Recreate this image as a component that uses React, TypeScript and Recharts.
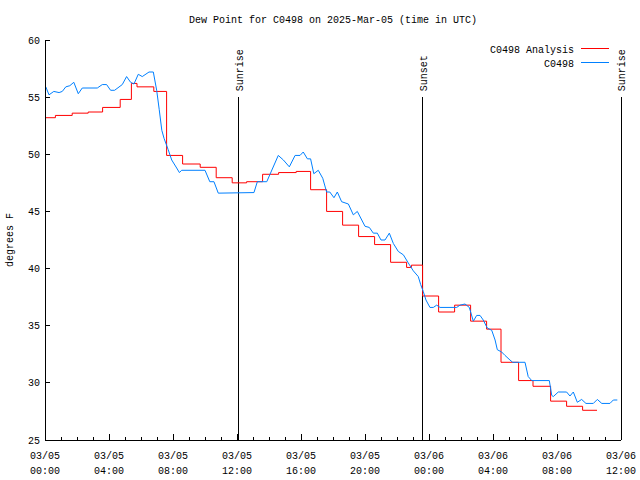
import { LineChart, Line, XAxis, YAxis, ReferenceLine } from 'recharts'

const FONT = '"Liberation Mono", "DejaVu Sans Mono", monospace'

// hours since 03/05 00:00 UTC
const redHours = [0, 0.65, 1.7, 2.7, 3.6, 4.7, 5.4, 5.75, 6.8, 7.6, 8.6, 9.7, 10.7, 11.7, 12.6, 13.6, 14.6, 15.7, 16.6, 17.6, 18.6, 19.6, 20.6, 21.6, 22.6, 22.9, 23.6, 24.6, 25.6, 26.6, 27.6, 28.5, 29.6, 30.5, 31.6, 32.6, 33.6, 34.5]
const redValues = [53.2, 53.4, 53.6, 53.7, 54.1, 54.8, 56.2, 55.9, 55.5, 49.9, 49.15, 48.86, 47.95, 47.5, 47.6, 48.25, 48.4, 48.5, 46.9, 45.0, 43.8, 42.8, 42.1, 40.55, 40.1, 40.3, 37.6, 36.2, 36.8, 35.4, 34.7, 31.8, 30.2, 29.7, 28.4, 27.95, 27.6, 27.6]

const blueHours = [0.05, 0.25, 0.55, 0.88, 1.08, 1.3, 1.55, 1.8, 2.08, 2.33, 3.27, 3.58, 3.85, 4.1, 4.35, 4.83, 5.1, 5.35, 5.56, 5.83, 6.08, 6.5, 6.77, 6.98, 7.14, 7.3, 7.44, 7.7, 7.92, 8.23, 8.4, 8.54, 10.0, 10.3, 10.56, 10.83, 13.06, 13.27, 13.86, 14.58, 14.9, 15.27, 15.63, 15.94, 16.14, 16.4, 16.6, 16.8, 17.08, 17.36, 17.6, 17.8, 18.06, 18.27, 18.54, 18.96, 19.27, 19.52, 20.0, 20.27, 20.52, 20.77, 21.0, 21.25, 21.52, 21.77, 22.08, 22.4, 22.7, 23.02, 23.33, 23.48, 23.64, 23.81, 24.06, 24.27, 24.48, 24.69, 25.73, 25.94, 26.25, 26.52, 26.77, 26.98, 27.19, 27.39, 27.64, 27.92, 28.13, 28.27, 28.54, 28.75, 29.06, 29.23, 30.0, 30.2, 30.42, 31.52, 31.67, 31.77, 32.08, 32.6, 32.81, 33.02, 33.27, 33.54, 33.81, 34.27, 34.52, 34.8, 35.31, 35.52, 35.77]
const blueValues = [55.9, 55.2, 55.5, 55.4, 55.5, 55.9, 56.0, 56.3, 55.3, 55.8, 55.8, 56.1, 56.1, 55.6, 55.6, 56.1, 56.8, 56.3, 56.15, 57.0, 56.8, 57.2, 57.2, 55.6, 53.9, 52.1, 51.4, 50.4, 49.5, 48.8, 48.4, 48.6, 48.6, 47.6, 47.6, 46.6, 46.65, 47.6, 47.6, 49.9, 49.5, 48.9, 49.9, 49.9, 50.2, 49.6, 49.6, 48.3, 48.6, 47.9, 46.7, 46.7, 46.2, 46.7, 45.85, 45.65, 44.7, 45.0, 43.7, 43.6, 43.1, 43.1, 42.5, 42.5, 43.1, 42.2, 41.5, 41.2, 40.5, 39.8, 39.3, 38.6, 38.0, 37.25, 36.6, 36.6, 36.8, 36.6, 36.6, 36.8, 36.9, 36.6, 35.4, 35.9, 35.9, 35.5, 34.8, 34.6, 33.75, 32.9, 32.7, 32.4, 32.0, 31.8, 31.8, 30.55, 30.2, 30.2, 28.9, 28.8, 29.2, 29.2, 28.85, 29.2, 28.3, 28.55, 28.2, 28.2, 28.55, 28.2, 28.2, 28.5, 28.5]

const majorHours = [0, 4, 8, 12, 16, 20, 24, 28, 32, 36]
const dayLabels = ['03/05', '03/05', '03/05', '03/05', '03/05', '03/05', '03/06', '03/06', '03/06', '03/06']
const timeLabels = ['00:00', '04:00', '08:00', '12:00', '16:00', '20:00', '00:00', '04:00', '08:00', '12:00']
const hourTicks = Array.from({ length: 37 }, (_, i) => i)
const yTicks = [25, 30, 35, 40, 45, 50, 55, 60]

const sunEvents = [
  { label: 'Sunrise', h: 12.1 },
  { label: 'Sunset', h: 23.6 },
  { label: 'Sunrise', h: 36 },
]

const redData = redHours.map((h, i) => ({ h, v: redValues[i] }))
const blueData = blueHours.map((h, i) => ({ h, v: blueValues[i] }))

const txt = { fontFamily: FONT, fontSize: 10, fill: '#000' }
const axisLine = { stroke: '#000', shapeRendering: 'crispEdges' }

function BottomTick({ x, y, payload }: any) {
  const i = majorHours.indexOf(payload.value)
  return (
    <g>
      <line x1={x} y1={y} x2={x} y2={y - (i >= 0 ? 6 : 3)} stroke="#000" shapeRendering="crispEdges" />
      {i >= 0 && (
        <>
          <text x={x} y={y + 18.5} textAnchor="middle" {...txt}>{dayLabels[i]}</text>
          <text x={x} y={y + 34} textAnchor="middle" {...txt}>{timeLabels[i]}</text>
        </>
      )}
    </g>
  )
}

function TopTick({ x, y, payload }: any) {
  const major = majorHours.includes(payload.value)
  return <line x1={x} y1={y} x2={x} y2={y + (major ? 6 : 3)} stroke="#000" shapeRendering="crispEdges" />
}

function LeftTick({ x, y, payload }: any) {
  return (
    <g>
      <line x1={x} y1={y} x2={x + 5} y2={y} stroke="#000" shapeRendering="crispEdges" />
      <text x={x - 5} y={y + 3.5} textAnchor="end" {...txt}>{payload.value}</text>
    </g>
  )
}

function RightTick({ x, y }: any) {
  return <line x1={x} y1={y} x2={x - 5} y2={y} stroke="#000" shapeRendering="crispEdges" />
}

function SunLabel({ viewBox, text }: any) {
  if (!viewBox) return null
  return (
    <text transform={`translate(${viewBox.x + 4},${viewBox.y - 6}) rotate(-90)`} textAnchor="start" {...txt}>
      {text}
    </text>
  )
}

export default function App() {
  return (
    <div style={{ position: 'absolute', left: 0, top: 0, width: 640, height: 480, background: '#fff' }}>
      <LineChart width={640} height={480} margin={{ top: 40, right: 19, bottom: 0, left: 0 }}>
        <XAxis
          dataKey="h" type="number" domain={[0, 36]} ticks={hourTicks} interval={0}
          allowDataOverflow height={40} tickSize={0} tickMargin={0} tickLine={false}
          tick={<BottomTick />} axisLine={axisLine}
        />
        <XAxis
          xAxisId="top" orientation="top" dataKey="h" type="number" domain={[0, 36]}
          ticks={hourTicks} interval={0} allowDataOverflow height={0} tickSize={0}
          tickMargin={0} tickLine={false} tick={<TopTick />} axisLine={axisLine}
        />
        <YAxis
          type="number" domain={[25, 60]} ticks={yTicks} interval={0} allowDataOverflow
          width={45} tickSize={0} tickMargin={0} tickLine={false} tick={<LeftTick />}
          axisLine={axisLine}
        />
        <YAxis
          yAxisId="right" orientation="right" type="number" domain={[25, 60]} ticks={yTicks}
          interval={0} allowDataOverflow width={0} tickSize={0} tickMargin={0} tickLine={false}
          tick={<RightTick />} axisLine={axisLine}
        />
        {sunEvents.map((e, i) => (
          <ReferenceLine
            key={i}
            segment={[{ x: e.h, y: 55 }, { x: e.h, y: 25 }]}
            stroke="#000"
            shapeRendering="crispEdges"
            ifOverflow="visible"
            label={<SunLabel text={e.label} />}
          />
        ))}
        <Line data={redData} dataKey="v" type="stepAfter" stroke="#ff0000" strokeWidth={1} dot={false} isAnimationActive={false} />
        <Line data={blueData} dataKey="v" type="linear" stroke="#0080ff" strokeWidth={1} dot={false} isAnimationActive={false} />
      </LineChart>

      {/* title, y label and legend */}
      <svg width={640} height={480} style={{ position: 'absolute', left: 0, top: 0, pointerEvents: 'none' }}>
        <text x={333} y={23} textAnchor="middle" {...txt}>Dew Point for C0498 on 2025-Mar-05 (time in UTC)</text>
        <text transform="translate(13,240) rotate(-90)" textAnchor="middle" {...txt}>degrees F</text>
        <text x={574} y={52.5} textAnchor="end" {...txt}>C0498 Analysis</text>
        <rect x={581} y={48} width={28} height={1} fill="#ff0000" />
        <text x={574} y={66.5} textAnchor="end" {...txt}>C0498</text>
        <rect x={581} y={62} width={28} height={1} fill="#0080ff" />
      </svg>
    </div>
  )
}
